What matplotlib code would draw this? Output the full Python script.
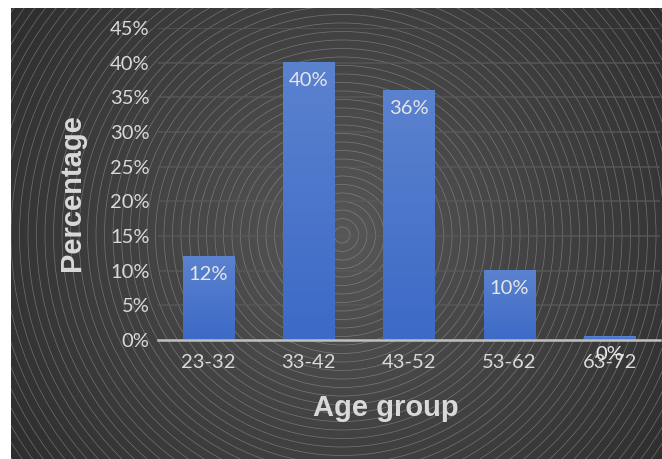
import matplotlib.pyplot as plt
import numpy as np
from matplotlib.patches import Circle
from matplotlib.colors import LinearSegmentedColormap

# Data
age_groups = ["23-32", "33-42", "43-52", "53-62", "63-72"]
percentages = [0.12, 0.40, 0.36, 0.10, 0.005]
value_labels = ["12%", "40%", "36%", "10%", "0%"]
y_ticks = [0.0, 0.05, 0.10, 0.15, 0.20, 0.25, 0.30, 0.35, 0.40, 0.45]
y_tick_labels = ["0%", "5%", "10%", "15%", "20%", "25%", "30%", "35%", "40%", "45%"]

W, H = 662, 459
fig = plt.figure(figsize=(W / 100, H / 100), dpi=100, facecolor="white")

# Dark background panel with radial gradient and rings
bx0, by0 = 11, 8
bw, bh = W - bx0, H - by0
bg = fig.add_axes([bx0 / W, 0, bw / W, bh / H])
bg.set_xlim(bx0, W)
bg.set_ylim(H, by0)
bg.axis("off")
cx, cy = 342, 235
xx, yy = np.meshgrid(np.arange(bx0, W), np.arange(by0, H))
r = np.hypot(xx - cx, yy - cy)
shade = 0.34 - 0.17 * np.clip(r / 420, 0, 1)
bg.imshow(shade, cmap="gray", vmin=0, vmax=1, extent=(bx0, W, H, by0),
          aspect="auto", interpolation="bilinear")
for rad in np.arange(8, 480, 8.5):
    bg.add_patch(Circle((cx, cy), rad, fill=False, lw=0.5,
                        ec="#a0a0a0", alpha=0.55))

# Main chart
ax = fig.add_axes([158 / W, (H - 340) / H, (660 - 158) / W, 312 / H])
ax.set_facecolor("none")
x = np.arange(len(age_groups))
ax.set_xlim(-0.5, len(age_groups) - 0.5)
ax.set_ylim(0, 0.45)

# Gradient bars
grad = np.linspace(0, 1, 100).reshape(-1, 1)
cmap = LinearSegmentedColormap.from_list("bar", ["#3c6ac6", "#5b82cf"])
for xi, v in zip(x, percentages):
    ax.imshow(grad, cmap=cmap, extent=(xi - 0.255, xi + 0.255, 0, v),
              origin="lower", aspect="auto", zorder=3)

ax.set_yticks(y_ticks)
ax.set_yticklabels(y_tick_labels)
ax.set_xticks(x)
ax.set_xticklabels(age_groups)
ax.tick_params(length=0, colors="#d9d9d9", labelsize=14.5, pad=6)
ax.tick_params(axis="x", pad=10)
for t in ax.get_xticklabels() + ax.get_yticklabels():
    t.set_family("Lato")
ax.grid(axis="y", color="#5a5a5a", lw=1.3, alpha=0.7, zorder=1)
for s in ["top", "right", "left"]:
    ax.spines[s].set_visible(False)
ax.spines["bottom"].set_color("#bfbfbf")
ax.spines["bottom"].set_linewidth(1.8)
ax.spines["bottom"].set_zorder(4)

for xi, v, lab in zip(x, percentages, value_labels):
    ax.annotate(lab, (xi, v), xytext=(0, -13), textcoords="offset points",
                ha="center", va="center", color="#e6e6e6", fontsize=14.5,
                family="Lato", zorder=5)

fig.text(72 / W, 1 - 193 / H, "Percentage", rotation=90, ha="center",
         va="center", color="#d9d9d9", fontsize=21, fontweight="bold",
         family="Liberation Sans")
fig.text(386 / W, 1 - 408 / H, "Age group", ha="center", va="center",
         color="#d9d9d9", fontsize=21, fontweight="bold",
         family="Liberation Sans")

fig.savefig("out.png", dpi=100, facecolor="white")
